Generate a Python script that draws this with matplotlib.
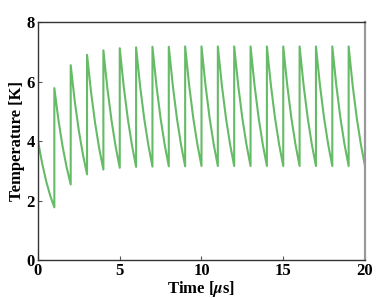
import matplotlib
matplotlib.use("Agg")
import matplotlib.pyplot as plt
import numpy as np

# temperature read at fractions of each 1 us pulse period (jump at start of period)
seg_frac = [0.0, 0.25, 0.5, 0.75, 1.0]
period_T = [
    [4.00, 3.26, 2.65, 2.16, 1.77],
    [5.78, 4.71, 3.83, 3.12, 2.54],
    [6.55, 5.33, 4.34, 3.54, 2.88],
    [6.90, 5.62, 4.58, 3.73, 3.04],
    [7.05, 5.74, 4.68, 3.81, 3.10],
    [7.12, 5.80, 4.72, 3.85, 3.13],
    [7.15, 5.82, 4.74, 3.86, 3.14],
    [7.17, 5.84, 4.75, 3.87, 3.15],
    [7.17, 5.84, 4.75, 3.87, 3.15],
    [7.18, 5.85, 4.76, 3.88, 3.16],
    [7.18, 5.85, 4.76, 3.88, 3.16],
    [7.18, 5.85, 4.76, 3.88, 3.16],
    [7.18, 5.85, 4.76, 3.88, 3.16],
    [7.18, 5.85, 4.76, 3.88, 3.16],
    [7.18, 5.85, 4.76, 3.88, 3.16],
    [7.18, 5.85, 4.76, 3.88, 3.16],
    [7.18, 5.85, 4.76, 3.88, 3.16],
    [7.18, 5.85, 4.76, 3.88, 3.16],
    [7.18, 5.85, 4.76, 3.88, 3.16],
    [7.18, 5.85, 4.76, 3.88, 3.16],
]
x_ticks = [0, 5, 10, 15, 20]
y_ticks = [0, 2, 4, 6, 8]

plt.rcParams['font.family'] = 'Liberation Serif'
plt.rcParams['font.weight'] = 'bold'
plt.rcParams['mathtext.fontset'] = 'stix'

t = []
temp = []
for i, row in enumerate(period_T):
    for f, v in zip(seg_frac, row):
        t.append(i + f)
        temp.append(v)

fig = plt.figure(figsize=(3.83, 2.98), dpi=100)
ax = fig.add_axes([0.0992, 0.1275, 0.8538, 0.7985])
ax.plot(t, temp, color='#66bb66', linewidth=1.5)

ax.set_xlim(0, 20)
ax.set_ylim(0, 8)
ax.set_xticks(x_ticks)
ax.set_yticks(y_ticks)
ax.tick_params(direction='in', length=3, width=0.8, color='#555555',
               labelsize=12, pad=2.5, top=False, right=False)
for lab in ax.get_xticklabels() + ax.get_yticklabels():
    lab.set_fontweight('bold')
for s in ['left', 'bottom', 'top']:
    ax.spines[s].set_color('#333333')
    ax.spines[s].set_linewidth(1.0)
ax.spines['right'].set_color('#999999')
ax.spines['right'].set_linewidth(1.6)

ax.set_xlabel(r'Time [$\mu$s]', fontsize=12, fontweight='bold', labelpad=0)
ax.set_ylabel('Temperature [K]', fontsize=12, fontweight='bold', labelpad=1)

fig.savefig('out.png', dpi=100)
